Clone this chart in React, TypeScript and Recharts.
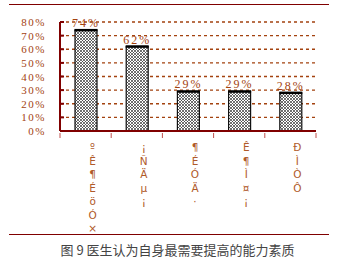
import React from "react";
import {
  BarChart,
  Bar,
  XAxis,
  YAxis,
  CartesianGrid,
  LabelList,
} from "recharts";

// garbled category labels as printed in the source figure (one glyph per row)
const categories = [
  "ºÊ¶ÉöÓ×",
  "¡ÑÄµ¡",
  "¶ÉÓÄ·",
  "Ê¶Ì¤¡",
  "ÐÌÒÔ",
];
const shares = [74, 62, 29, 29, 28];
const yTicks = [0, 10, 20, 30, 40, 50, 60, 70, 80];

const data = categories.map((name, i) => ({ name, value: shares[i] }));

const BROWN = "#a3420f";
const AXIS = "#800000";
const TICK_GAP = 14;

function VerticalTick(props: any) {
  const { x, y, payload, index } = props;
  const chars = Array.from(String(payload.value));
  const half = payload.offset || 0;
  const last = index === categories.length - 1;
  return (
    <g>
      <line x1={x - half} x2={x - half} y1={y - 6} y2={y - 1} stroke="#c0504d" />
      {last && <line x1={x + half} x2={x + half} y1={y - 6} y2={y - 1} stroke="#c0504d" />}
      <text
        x={x + 7}
        y={y + 12}
        textAnchor="middle"
        fill="#b05a2a"
        fontSize={10.5}
        fontFamily="'DejaVu Sans', sans-serif"
      >
        {chars.map((c, i) => (
          <tspan key={i} x={x + 7} dy={i === 0 ? 0 : 13.5}>
            {c}
          </tspan>
        ))}
      </text>
    </g>
  );
}

function PercentTick(props: any) {
  const { x, y, payload } = props;
  const axisX = x + TICK_GAP;
  return (
    <g>
      {payload.value > 0 && (
        <line x1={axisX} x2={axisX + 4} y1={y} y2={y} stroke={AXIS} strokeWidth={2} />
      )}
      <text
        x={x}
        y={y}
        dy={4}
        textAnchor="end"
        fill={BROWN}
        fontSize={11}
        fontFamily="'Liberation Serif', serif"
        letterSpacing={1.5}
      >
        {`${payload.value}%`}
      </text>
    </g>
  );
}

function HatchBar(props: any) {
  const { x, y, width, height, index } = props;
  if (!height || height <= 0) return null;
  const id = `hatch-${index}`;
  return (
    <g>
      <defs>
        <pattern id={id} width="3" height="3" patternUnits="userSpaceOnUse">
          <rect width="3" height="3" fill="#fff" />
          <path d="M0,3 L3,0 M0,0 L3,3" stroke="#333" strokeWidth={0.7} />
        </pattern>
      </defs>
      <rect x={x} y={y} width={width} height={height} fill={`url(#${id})`} stroke="#111" strokeWidth={1.2} />
      <line x1={x - 0.5} x2={x + width + 0.5} y1={y} y2={y} stroke="#000" strokeWidth={2.5} />
    </g>
  );
}

export default function App() {
  return (
    <div style={{ position: "absolute", left: 0, top: 0, width: 340, height: 261, background: "#fff" }}>
      <div style={{ position: "absolute", left: 9, top: 4, width: 320, height: 229, borderTop: `1.5px solid ${AXIS}`, borderBottom: `1.5px solid ${AXIS}` }} />
      <div style={{ position: "absolute", left: 0, top: 0 }}>
        <BarChart
          width={340}
          height={261}
          data={data}
          margin={{ top: 22, right: 24, bottom: 30, left: 0 }}
          barSize={22}
        >
          <CartesianGrid
            horizontal
            vertical={false}
            stroke={BROWN}
            strokeDasharray="3 3"
            strokeWidth={1.3}
          />
          <XAxis
            dataKey="name"
            interval={0}
            height={100}
            axisLine={{ stroke: AXIS, strokeWidth: 2 }}
            tickLine={false}
            tick={<VerticalTick />}
          />
          <YAxis
            domain={[0, 80]}
            ticks={yTicks}
            width={60}
            interval={0}
            axisLine={{ stroke: AXIS, strokeWidth: 2 }}
            tickLine={false}
            tickSize={6}
            tickMargin={TICK_GAP - 6}
            tick={<PercentTick />}
          />
          <Bar dataKey="value" shape={<HatchBar />} isAnimationActive={false}>
            <LabelList
              dataKey="value"
              position="top"
              offset={3}
              formatter={(v: any) => `${v}%`}
              fill={BROWN}
              fontSize={12}
              fontFamily="'Liberation Serif', serif"
              letterSpacing={2}
            />
          </Bar>
        </BarChart>
      </div>
      <div
        style={{
          position: "absolute",
          left: 0,
          width: 355,
          top: 242,
          textAlign: "center",
          fontSize: 13,
          color: "#444",
          fontFamily: "'Noto Sans CJK SC', sans-serif",
          lineHeight: "16px",
        }}
      >
        图 9 医生认为自身最需要提高的能力素质
      </div>
    </div>
  );
}
